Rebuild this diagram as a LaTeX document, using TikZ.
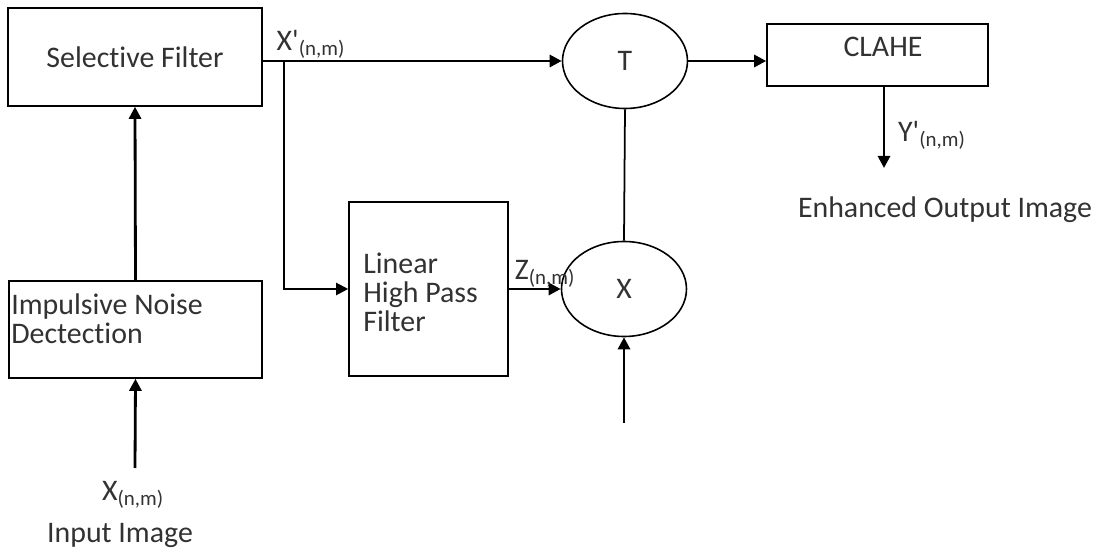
\documentclass[tikz,border=0pt]{standalone}
\usepackage{fontspec}
\setmainfont{Carlito}[Ligatures=NoCommon]
\usepackage{xcolor}
\definecolor{txtgray}{RGB}{50,50,50}
\usetikzlibrary{shapes.geometric,arrows.meta,positioning,calc}

\begin{document}
\begin{tikzpicture}[x=1cm,y=1cm,font=\fontsize{17}{16.5}\selectfont,>={Triangle[length=2.4mm,width=2.4mm]},
  blk/.style={draw,line width=0.9pt,text=txtgray,inner sep=2pt},
  opr/.style={draw,ellipse,line width=0.9pt,minimum width=2.5cm,minimum height=1.9cm,inner sep=0pt,text=txtgray},
  sig/.style={->,line width=1.6pt},
  tap/.style={line width=1pt},
  lbl/.style={text=txtgray,inner sep=1pt}]
\useasboundingbox (0,0) rectangle (21.9,11.08);
% blocks
\node[blk,minimum width=5.08cm,minimum height=1.96cm] (sel) at (2.70,9.94) {Selective Filter};
\node[blk,minimum width=5.06cm,minimum height=1.94cm] (ind) at (2.71,4.49) {};
\node[lbl,anchor=west,align=left,inner sep=0pt] (indtxt) at (0.22,4.70) {Impulsive Noise\\Dectection};
\node[blk,minimum width=3.18cm,minimum height=3.48cm] (lhp) at (8.57,5.30) {};
\node[lbl,anchor=west,align=left,inner sep=0pt] (lhptxt) at (7.26,5.24) {Linear\\High Pass\\Filter};
\node[blk,minimum width=4.42cm,minimum height=1.24cm] (clahe) at (17.55,9.98) {};
\node[lbl] (clahetxt) at (17.66,10.14) {CLAHE};
% operators
\node[opr] (T) at (12.5,9.86) {T};
\node[opr] (X) at (12.48,5.30) {X};
% free ends
\coordinate (src)  at (2.70,1.72);
\coordinate (gain) at (12.48,2.62);
\coordinate (out)  at (17.68,7.72);
\coordinate (br)   at (5.68,9.86);
% connectors
\draw[sig] (src) -- (ind.south);
\draw[sig] (ind.north) -- (sel.south);
\draw[sig] (sel.east |- T.west) -- (T.west);
\draw[sig,line width=1.2pt] (br) |- (lhp.west);
\draw[sig] (lhp.east) -- (X.west);
\draw[tap] (T.south) -- (X.north);
\draw[sig] (gain) -- (X.south);
\draw[sig] (T.east) -- (T.east -| clahe.west);
\draw[sig] (clahe.south -| out) -- (out);
% labels
\node[lbl] (xin)   at (2.66,1.18) {X\textsubscript{(n,m)}};
\node[lbl] (inimg) at (2.40,0.38) {Input Image};
\node[lbl] (xp)    at (6.22,10.20) {X\textquotesingle\textsubscript{(n,m)}};
\node[lbl] (zl)    at (10.90,5.60) {Z\textsubscript{(n,m)}};
\node[lbl] (yp)    at (18.64,8.38) {Y\textquotesingle\textsubscript{(n,m)}};
\node[lbl] (enh)   at (18.90,6.88) {Enhanced Output Image};
\end{tikzpicture}
\end{document}
